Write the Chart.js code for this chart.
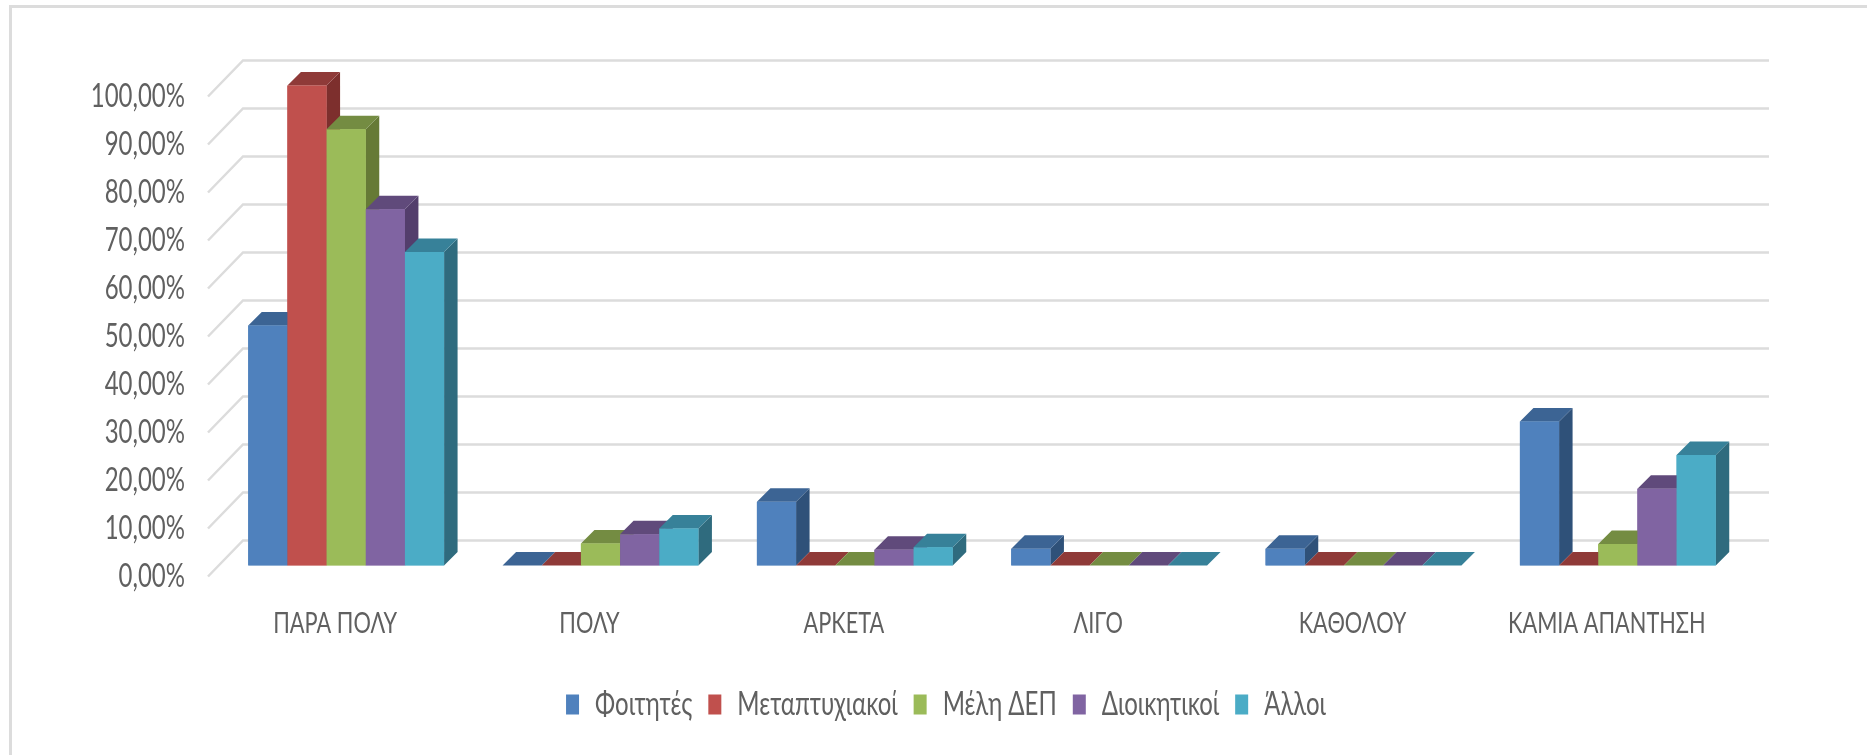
<!DOCTYPE html>
<html lang="el">
<head>
<meta charset="utf-8">
<title>Chart</title>
<script src="https://cdn.jsdelivr.net/npm/chart.js@4/dist/chart.umd.js"></script>
<style>
    html, body { margin: 0; padding: 0; background: #fff; overflow: hidden; }
    #marco { position: absolute; left: 9px; top: 5px; right: 0; bottom: 0; border-left: 3px solid #dcdcdc; border-top: 3px solid #dcdcdc; }
    #lienzo { position: absolute; left: 0; top: 0; filter: blur(0.5px); }
</style>
</head>
<body>
<div id="marco"></div>
<canvas id="lienzo" width="1867" height="755"></canvas>
<script>
// Categories and series
const categorias = ["ΠΑΡΑ ΠΟΛΥ", "ΠΟΛΥ", "ΑΡΚΕΤΑ", "ΛΙΓΟ", "ΚΑΘΟΛΟΥ", "ΚΑΜΙΑ ΑΠΑΝΤΗΣΗ"];
const series = ["Φοιτητές", "Μεταπτυχιακοί", "Μέλη ΔΕΠ", "Διοικητικοί", "Άλλοι"];
const foitites = [50, 0, 13.3, 3.5, 3.5, 30];
const metaptychiakoi = [100, 0, 0, 0, 0, 0];
const meli = [90.9, 4.6, 0, 0, 0, 4.5];
const dioikitikoi = [74.2, 6.5, 3.3, 0, 0, 16];
const alloi = [65.3, 7.7, 3.8, 0, 0, 23];
const valores = [foitites, metaptychiakoi, meli, dioikitikoi, alloi];

// Colours: front, top and side of each bar
const frente = ["#4f81bd", "#c0504d", "#9bbb59", "#8064a2", "#4bacc6"];
const arriba = ["#3c6494", "#8f3a38", "#748c42", "#604a7b", "#378199"];
const lado = ["#2f5179", "#7d2f2d", "#667a36", "#533e6c", "#2f6b7e"];

const fondo = 13.5;      // bar depth
const frenteBarra = 11;  // bars stand this far behind the front edge of the floor
const paredAtras = 25;   // back wall, behind the plane of the bars
const colorGrid = "#dcdcdc";
const colorTexto = "#606060";
const fuente = "Lato, 'Liberation Sans', sans-serif";
const estrechar = 0.75;  // the original text is a condensed face, none is installed

const canvas = document.getElementById("lienzo");
const ctx = canvas.getContext("2d");

// Condense all chart text: measured and drawn narrower
const fillTextOriginal = ctx.fillText.bind(ctx);
const measureTextOriginal = ctx.measureText.bind(ctx);
ctx.fillText = function (texto, x, y) {
    ctx.save();
    ctx.translate(x, y);
    ctx.scale(estrechar, 1);
    fillTextOriginal(texto, 0, 0);
    ctx.restore();
};
ctx.measureText = function (texto) {
    return { width: measureTextOriginal(texto).width * estrechar };
};

// Back wall, side wall and the top/side faces of the 3D bars
const caras3d = {
    id: "caras3d",
    afterLayout(chart) {
        // the legend is centred on the full picture, not on the plot
        const mover = 946 - (chart.legend.left + chart.legend.right) / 2;
        chart.legend.left += mover;
        chart.legend.right += mover;
    },
    beforeDatasetsDraw(chart) {
        const { ctx, chartArea, scales } = chart;
        ctx.save();
        ctx.strokeStyle = colorGrid;
        ctx.lineWidth = 2.5;
        scales.y.ticks.forEach(function (t) {
            const y = scales.y.getPixelForValue(t.value);
            ctx.beginPath();
            ctx.moveTo(chartArea.left - frenteBarra, y + frenteBarra);
            ctx.lineTo(chartArea.left + paredAtras - 1, y - paredAtras);
            ctx.lineTo(chartArea.right + paredAtras - 1, y - paredAtras);
            ctx.stroke();
        });
        ctx.restore();
    },
    // Paint left to right, so each bar covers the side of the one before it
    afterDatasetsDraw(chart) {
        const { ctx } = chart;
        ctx.save();
        series.forEach(function (nombre, i) {
            chart.getDatasetMeta(i).data.forEach(function (bar) {
                const izq = bar.x - bar.width / 2;
                const der = bar.x + bar.width / 2;
                // side
                ctx.fillStyle = lado[i];
                ctx.beginPath();
                ctx.moveTo(der, bar.y);
                ctx.lineTo(der + fondo, bar.y - fondo);
                ctx.lineTo(der + fondo, bar.base - fondo);
                ctx.lineTo(der, bar.base);
                ctx.closePath();
                ctx.fill();
                // top
                ctx.fillStyle = arriba[i];
                ctx.beginPath();
                ctx.moveTo(izq, bar.y);
                ctx.lineTo(izq + fondo, bar.y - fondo);
                ctx.lineTo(der + fondo, bar.y - fondo);
                ctx.lineTo(der, bar.y);
                ctx.closePath();
                ctx.fill();
                bar.draw(ctx);
            });
        });
        ctx.restore();
    }
};

new Chart(ctx, {
    type: "bar",
    plugins: [caras3d],
    data: {
        labels: categorias,
        datasets: series.map(function (nombre, i) {
            return {
                label: nombre,
                data: valores[i],
                backgroundColor: frente[i],
                categoryPercentage: 0.77,
                barPercentage: 1
            };
        })
    },
    options: {
        responsive: false,
        animation: false,
        layout: { padding: { left: 0, right: 122, top: 85.5, bottom: 24.5 } },
        plugins: {
            title: { display: false },
            tooltip: { enabled: false },
            legend: {
                position: "bottom",
                labels: {
                    boxWidth: 13,
                    boxHeight: 20,
                    padding: 16,
                    color: colorTexto,
                    font: { family: fuente, size: 32 }
                }
            }
        },
        scales: {
            x: {
                grid: { display: false },
                border: { display: false },
                afterFit(eje) { eje.height = 107; },
                ticks: {
                    color: colorTexto,
                    font: { family: fuente, size: 29 },
                    padding: 33,
                    labelOffset: -frenteBarra,
                    maxRotation: 0
                }
            },
            y: {
                min: 0,
                max: 100,
                afterFit(eje) { eje.width = 219; },
                grid: { display: false, drawTicks: false },
                border: { display: false },
                ticks: {
                    stepSize: 10,
                    color: colorTexto,
                    font: { family: fuente, size: 32 },
                    padding: 34,
                    labelOffset: frenteBarra,
                    callback: function (v) { return v.toFixed(2).replace(".", ",") + "%"; }
                }
            }
        }
    }
});
</script>
</body>
</html>
